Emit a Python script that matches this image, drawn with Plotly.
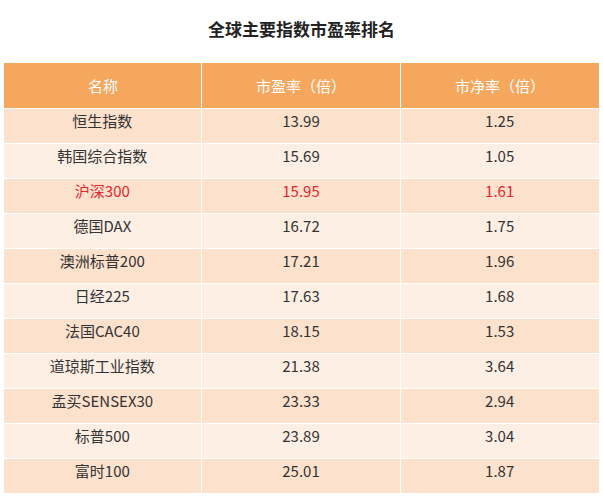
import plotly.graph_objects as go

names = ["恒生指数","韩国综合指数","沪深300","德国DAX","澳洲标普200","日经225","法国CAC40","道琼斯工业指数","孟买SENSEX30","标普500","富时100"]
pe = ["13.99","15.69","15.95","16.72","17.21","17.63","18.15","21.38","23.33","23.89","25.01"]
pb = ["1.25","1.05","1.61","1.75","1.96","1.68","1.53","3.64","2.94","3.04","1.87"]
headers = ["名称","市盈率（倍）","市净率（倍）"]

fills = ["#FCE2CD" if i % 2 == 0 else "#FDEFE4" for i in range(len(names))]
fcol = ["#E8262D" if n == "沪深300" else "#333333" for n in names]

x0, x1 = 0.005, 0.995
fig = go.Figure(go.Table(
    domain=dict(x=[x0, x1], y=[0, 1-62/498]),
    columnwidth=[1, 1, 1],
    header=dict(values=["", "", ""], fill_color="#F6A75E", line_color="white", line_width=1, height=46),
    cells=dict(values=[names, pe, pb], fill_color=[fills]*3, line_color="white", line_width=1,
               font=dict(color=[fcol]*3, size=15, family="Noto Sans CJK SC"), height=35, align="center"),
))
for i, h in enumerate(headers):
    fig.add_annotation(text=h, xref="paper", yref="paper", x=x0 + (x1-x0)*(i+0.5)/3, y=1-85/498,
                       xanchor="center", yanchor="middle",
                       showarrow=False, font=dict(color="white", size=15, family="Noto Sans CJK SC"))
fig.update_layout(width=603, height=498, autosize=False, margin=dict(l=0, r=0, t=0, b=0), paper_bgcolor="white",
    title=dict(text="<b>全球主要指数市盈率排名</b>", x=0.5, y=1-30/498, xanchor="center", yanchor="middle",
               font=dict(size=17, color="#222", family="Noto Sans CJK SC")))
fig.write_html("out.html", config={"responsive": False, "displayModeBar": False},
               post_script="document.body.style.margin='0';document.body.style.overflow='hidden';")
